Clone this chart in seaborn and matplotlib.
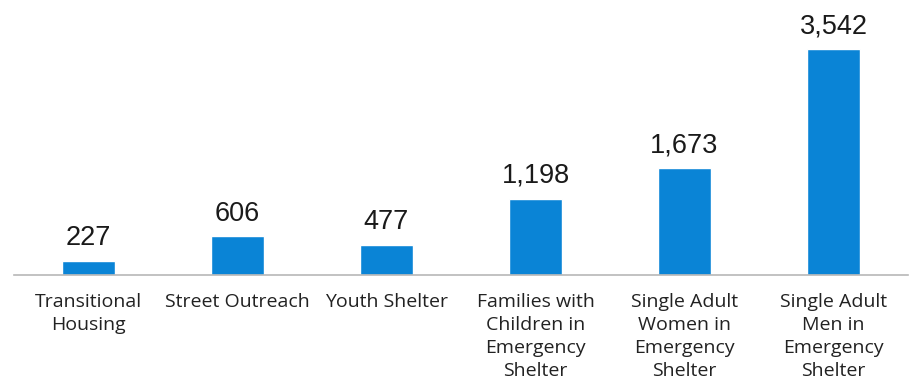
import matplotlib
matplotlib.use("Agg")
import matplotlib.pyplot as plt
from matplotlib import font_manager
import seaborn as sns
import pandas as pd

categories = [
    "Transitional\nHousing",
    "Street Outreach",
    "Youth Shelter",
    "Families with\nChildren in\nEmergency\nShelter",
    "Single Adult\nWomen in\nEmergency\nShelter",
    "Single Adult\nMen in\nEmergency\nShelter",
]
counts = [227, 606, 477, 1198, 1673, 3542]

sns.set_theme(style="white")

installed = {f.name for f in font_manager.fontManager.ttflist}
label_family = next(
    (f for f in ["Liberation Sans Narrow", "Open Sans", "Lato", "DejaVu Sans"] if f in installed),
    "DejaVu Sans",
)
plt.rcParams["font.family"] = ["Liberation Sans", "DejaVu Sans"]

df = pd.DataFrame({"category": categories, "count": counts})

fig = plt.figure(figsize=(9.09, 3.85), dpi=100)
ax = fig.add_axes([14 / 909, 1 - 275 / 385, 894 / 909, 275 / 385])

sns.barplot(data=df, x="category", y="count", color="#0a84d6", saturation=1,
            width=0.36, ax=ax)

ax.set_xlim(-0.5, len(categories) - 0.5)
ax.set_ylim(0, 4310)

for i, v in enumerate(counts):
    ax.annotate(f"{v:,}", (i, v), xytext=(0, 7), textcoords="offset points",
                ha="center", va="bottom", fontsize=19.5, color="#1a1a1a")

for side in ["top", "right", "left"]:
    ax.spines[side].set_visible(False)
ax.spines["bottom"].set_color("#b8b8b8")
ax.spines["bottom"].set_linewidth(1.2)

ax.set_yticks([])
ax.set_xlabel("")
ax.set_ylabel("")
ax.set_xticks(range(len(categories)))
ax.set_xticklabels(categories, fontsize=14, family=label_family, color="#222222",
                   linespacing=1.36)
ax.tick_params(axis="x", which="major", length=0, pad=13)
ax.set_xticks([x - 0.5 for x in range(len(categories) + 1)], minor=True)
ax.tick_params(axis="x", which="minor", length=5, width=1.2, color="#b8b8b8",
               direction="out")

fig.savefig("out.png", dpi=100)
